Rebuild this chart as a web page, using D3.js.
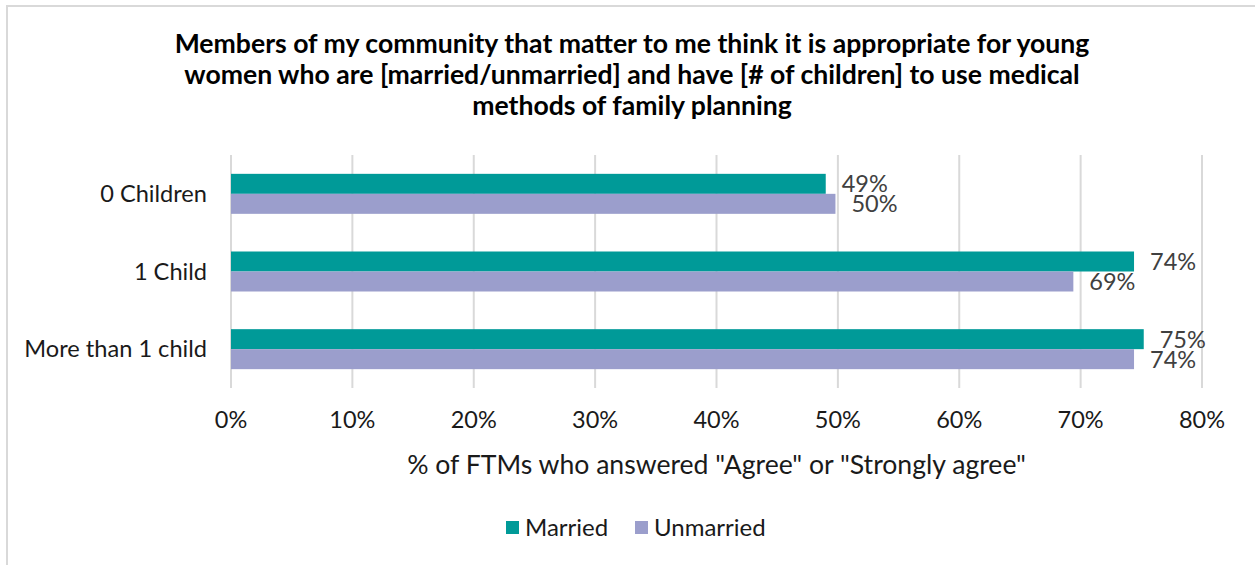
<!DOCTYPE html>
<html>
<head>
<meta charset="utf-8">
<script src="https://cdn.jsdelivr.net/npm/d3@7"></script>
<style>
  body { margin: 0; background: #fff; }
  svg { display: block; font-family: Lato, "Open Sans", sans-serif; }
</style>
</head>
<body>
<svg width="1255" height="565"></svg>
<script>
// chart data
var categories = ["0 Children", "1 Child", "More than 1 child"];
var seriesNames = ["Married", "Unmarried"];
var married = [49.0, 74.4, 75.2];
var unmarried = [49.8, 69.4, 74.4];
var xTicks = [0, 10, 20, 30, 40, 50, 60, 70, 80];
var titleLines = [
    "Members of my community that matter to me think it is appropriate for young",
    "women who are [married/unmarried] and have [# of children] to use medical",
    "methods of family planning"
];
var xTitle = '% of FTMs who answered "Agree" or "Strongly agree"';

document.addEventListener('DOMContentLoaded', function() {
    draw();
});

function draw() {
    var svg = d3.select("svg");
    var colors = ["#009A98", "#9B9ECC"];

    // outer chart border
    svg.append("rect")
        .attr("x", 7).attr("y", 6)
        .attr("width", 1260).attr("height", 570)
        .attr("fill", "none")
        .attr("stroke", "#d9d9d9")
        .attr("stroke-width", 2);

    // title
    svg.append("g").selectAll("text")
        .data(titleLines)
        .enter().append("text")
        .attr("x", 632)
        .attr("y", function(d, i) { return 53 + i * 31; })
        .attr("text-anchor", "middle")
        .attr("font-size", "26.6px")
        .attr("font-weight", "bold")
        .attr("fill", "#000")
        .text(function(d) { return d; });

    var x = d3.scaleLinear().domain([0, 80]).range([231, 1202]);
    var y = d3.scaleBand().domain(categories).range([155, 388])
        .paddingInner(0.485).paddingOuter(0.2425);
    var ySub = d3.scaleBand().domain(seriesNames).range([0, y.bandwidth()]);

    // gridlines
    svg.append("g").selectAll("line")
        .data(xTicks)
        .enter().append("line")
        .attr("x1", function(d) { return x(d); })
        .attr("x2", function(d) { return x(d); })
        .attr("y1", 155).attr("y2", 388)
        .attr("stroke", "#d9d9d9")
        .attr("stroke-width", 2);

    // tick labels
    svg.append("g").selectAll("text")
        .data(xTicks)
        .enter().append("text")
        .attr("x", function(d) { return x(d); })
        .attr("y", 428)
        .attr("text-anchor", "middle")
        .attr("font-size", "23.5px")
        .attr("fill", "#1a1a1a")
        .text(function(d) { return d + "%"; });

    // category labels
    svg.append("g").selectAll("text")
        .data(categories)
        .enter().append("text")
        .attr("x", 207)
        .attr("y", function(d) { return y(d) + y.bandwidth() / 2 + 8; })
        .attr("text-anchor", "end")
        .attr("font-size", "23.6px")
        .attr("fill", "#1a1a1a")
        .text(function(d) { return d; });

    var series = [married, unmarried];
    series.forEach(function(vals, s) {
        var rows = categories.map(function(c, i) { return { cat: c, v: vals[i] }; });
        var g = svg.append("g");
        g.selectAll("rect")
            .data(rows)
            .enter().append("rect")
            .attr("x", x(0))
            .attr("y", function(d) { return y(d.cat) + ySub(seriesNames[s]); })
            .attr("width", function(d) { return x(d.v) - x(0); })
            .attr("height", ySub.bandwidth())
            .attr("fill", colors[s]);
        g.selectAll("text")
            .data(rows)
            .enter().append("text")
            .attr("x", function(d) { return x(d.v) + 16; })
            .attr("y", function(d) { return y(d.cat) + ySub(seriesNames[s]) + ySub.bandwidth() / 2 + 8.5; })
            .attr("font-size", "23.5px")
            .attr("fill", "#404040")
            .text(function(d) { return Math.round(d.v) + "%"; });
    });

    // axis title
    svg.append("text")
        .attr("x", (x(0) + x(80)) / 2)
        .attr("y", 474)
        .attr("text-anchor", "middle")
        .attr("font-size", "26.6px")
        .attr("fill", "#1a1a1a")
        .text(xTitle);

    // legend
    var legendX = [506, 635];
    var lg = svg.append("g").selectAll("g")
        .data(seriesNames)
        .enter().append("g")
        .attr("transform", function(d, i) { return "translate(" + legendX[i] + ",521)"; });
    lg.append("rect")
        .attr("width", 13).attr("height", 13)
        .attr("fill", function(d, i) { return colors[i]; });
    lg.append("text")
        .attr("x", 19).attr("y", 15)
        .attr("font-size", "24px")
        .attr("fill", "#1a1a1a")
        .text(function(d) { return d; });
}
</script>
</body>
</html>
